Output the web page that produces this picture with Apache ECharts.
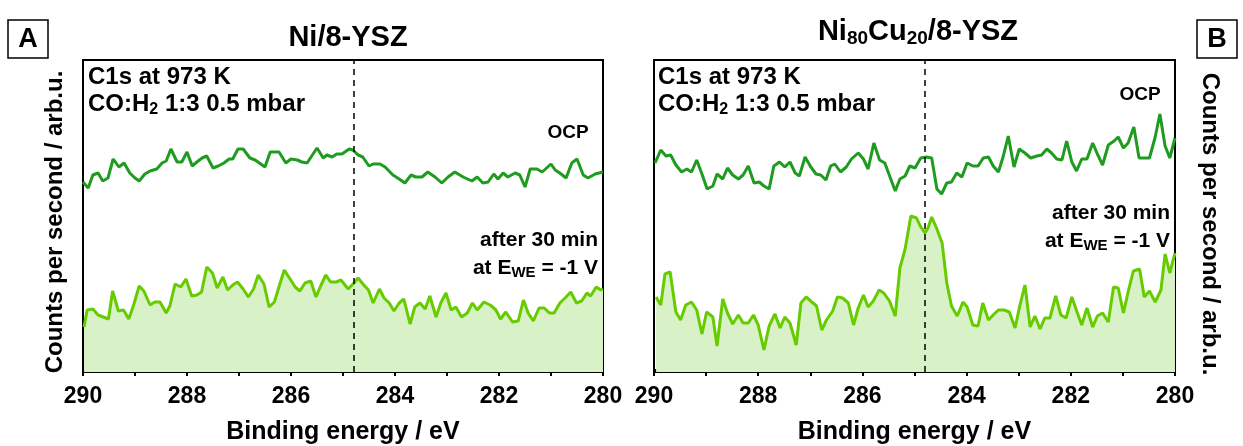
<!DOCTYPE html>
<html>
<head>
<meta charset="utf-8">
<script src="https://cdn.jsdelivr.net/npm/echarts@6/dist/echarts.min.js"></script>
<style>
  html, body { margin: 0; padding: 0; background: #fff; }
  #main { width: 1243px; height: 446px; }
</style>
</head>
<body>
<div id="main"></div>
<script>
// C1s spectra, [binding energy eV, counts arb.u.]
var niOcp = [
  [290.00,188],[289.90,182],[289.81,195],[289.71,197],[289.62,189],[289.52,192],[289.42,211],[289.31,203],
  [289.21,207],[289.10,197],[289.00,192],[288.92,189],[288.81,196],[288.71,199],[288.58,201],[288.48,207],
  [288.40,209],[288.31,221],[288.19,208],[288.10,208],[288.00,218],[287.90,204],[287.81,208],[287.71,212],
  [287.62,214],[287.50,202],[287.40,204],[287.29,207],[287.19,211],[287.12,211],[287.02,221],[286.92,221],
  [286.79,212],[286.69,210],[286.50,203],[286.40,218],[286.23,218],[286.10,207],[286.00,211],[285.88,210],
  [285.79,208],[285.69,207],[285.50,222],[285.38,212],[285.31,215],[285.21,213],[285.12,216],[285.02,216],
  [284.88,221],[284.81,220],[284.71,215],[284.62,213],[284.50,204],[284.42,206],[284.29,206],[284.19,203],
  [284.04,195],[283.92,191],[283.81,187],[283.69,195],[283.60,193],[283.48,193],[283.37,198],[283.23,193],
  [283.10,187],[282.98,193],[282.85,198],[282.69,193],[282.52,189],[282.42,193],[282.31,187],[282.21,188],
  [282.10,196],[282.02,191],[281.92,197],[281.83,193],[281.69,197],[281.60,195],[281.50,183],[281.40,201],
  [281.27,201],[281.17,198],[281.00,206],[280.92,200],[280.83,197],[280.71,192],[280.60,207],[280.50,211],
  [280.38,195],[280.29,192],[280.15,196],[280.00,198]
];
var niBias = [
  [289.98,43],[289.92,60],[289.81,61],[289.71,55],[289.61,53],[289.51,51],[289.43,79],[289.32,59],
  [289.22,60],[289.12,51],[289.02,66],[288.92,84],[288.83,79],[288.71,65],[288.62,68],[288.52,68],
  [288.40,57],[288.33,64],[288.23,86],[288.12,83],[288.02,91],[287.91,74],[287.81,75],[287.72,78],
  [287.62,103],[287.51,97],[287.42,82],[287.31,93],[287.22,80],[287.12,85],[287.03,88],[286.92,81],
  [286.82,73],[286.72,81],[286.63,95],[286.52,86],[286.42,63],[286.32,68],[286.22,85],[286.13,100],
  [286.03,92],[285.92,83],[285.83,79],[285.73,87],[285.62,89],[285.52,73],[285.43,84],[285.33,95],
  [285.24,88],[285.13,88],[285.04,90],[284.90,81],[284.79,87],[284.71,92],[284.60,85],[284.51,80],
  [284.42,67],[284.30,81],[284.21,72],[284.11,67],[284.02,59],[283.92,67],[283.83,71],[283.71,46],
  [283.62,63],[283.52,67],[283.42,61],[283.33,74],[283.21,53],[283.12,67],[283.02,77],[282.92,60],
  [282.83,63],[282.72,53],[282.61,57],[282.51,67],[282.42,60],[282.29,68],[282.17,65],[282.06,60],
  [281.97,51],[281.87,58],[281.74,48],[281.63,49],[281.53,70],[281.44,57],[281.34,49],[281.23,62],
  [281.13,62],[281.03,57],[280.94,57],[280.83,67],[280.71,73],[280.62,78],[280.51,67],[280.41,69],
  [280.31,77],[280.24,74],[280.13,83],[280.04,80],[280.00,81]
];
var nicuOcp = [
  [289.98,207],[289.87,220],[289.77,214],[289.68,215],[289.58,205],[289.47,198],[289.37,201],[289.28,198],
  [289.18,210],[289.08,196],[288.98,181],[288.87,184],[288.79,196],[288.68,191],[288.59,202],[288.49,195],
  [288.38,191],[288.29,195],[288.19,204],[288.08,187],[287.98,188],[287.89,184],[287.79,181],[287.70,204],
  [287.59,208],[287.49,203],[287.39,208],[287.29,197],[287.21,194],[287.10,213],[286.99,203],[286.89,196],
  [286.80,195],[286.70,190],[286.61,204],[286.53,206],[286.42,198],[286.31,203],[286.21,211],[286.08,217],
  [285.98,211],[285.89,201],[285.78,227],[285.67,210],[285.57,207],[285.47,193],[285.37,179],[285.28,191],
  [285.18,194],[285.09,204],[284.99,202],[284.88,212],[284.77,213],[284.67,212],[284.57,181],[284.48,176],
  [284.38,187],[284.29,188],[284.19,197],[284.09,193],[283.99,207],[283.88,204],[283.78,204],[283.68,212],
  [283.58,213],[283.49,204],[283.39,198],[283.30,213],[283.20,234],[283.09,203],[282.99,221],[282.88,217],
  [282.77,212],[282.65,214],[282.56,215],[282.46,221],[282.37,217],[282.27,211],[282.17,210],[282.08,229],
  [281.98,208],[281.89,199],[281.79,211],[281.69,211],[281.58,227],[281.49,216],[281.39,205],[281.28,225],
  [281.17,229],[281.09,233],[280.99,222],[280.90,227],[280.79,243],[280.69,212],[280.60,212],[280.49,212],
  [280.38,233],[280.29,256],[280.19,224],[280.10,212],[280.00,232]
];
var nicuBias = [
  [289.96,73],[289.87,65],[289.79,96],[289.69,98],[289.58,58],[289.49,50],[289.39,65],[289.28,68],
  [289.18,60],[289.08,36],[288.99,58],[288.87,53],[288.79,24],[288.68,71],[288.59,57],[288.49,46],
  [288.38,55],[288.29,47],[288.19,47],[288.09,55],[288.00,45],[287.89,20],[287.79,44],[287.68,56],
  [287.58,42],[287.49,53],[287.39,47],[287.27,25],[287.18,67],[287.08,73],[286.97,68],[286.88,64],
  [286.78,40],[286.69,50],[286.57,59],[286.48,73],[286.38,72],[286.27,67],[286.17,45],[286.08,62],
  [285.98,75],[285.89,63],[285.79,69],[285.68,80],[285.59,77],[285.48,69],[285.37,54],[285.28,102],
  [285.18,121],[285.07,154],[284.96,152],[284.89,144],[284.80,137],[284.74,142],[284.67,153],[284.57,141],
  [284.47,127],[284.38,87],[284.29,64],[284.18,54],[284.07,68],[283.99,63],[283.88,45],[283.78,44],
  [283.69,67],[283.58,50],[283.49,55],[283.39,60],[283.28,60],[283.18,58],[283.07,42],[282.98,64],
  [282.88,85],[282.78,43],[282.69,54],[282.59,41],[282.50,52],[282.40,52],[282.29,74],[282.19,55],
  [282.09,52],[281.98,73],[281.88,58],[281.79,45],[281.69,62],[281.58,43],[281.49,54],[281.39,57],
  [281.28,48],[281.18,83],[281.09,82],[280.99,57],[280.90,78],[280.80,99],[280.68,101],[280.59,73],
  [280.49,79],[280.38,68],[280.27,80],[280.19,116],[280.10,97],[280.00,117]
];
var peakPos = 284.8;

var font = "'Liberation Sans', Arial, sans-serif";
var ocpColor = '#1f9b1f';
var biasColor = '#66cc00';
var fillColor = '#d9f1c6';

var myChart = echarts.init(document.getElementById('main'));

function xAx(idx) {
  return {
    gridIndex: idx, type: 'value', min: 280, max: 290, interval: 2, inverse: true,
    name: 'Binding energy / eV', nameLocation: 'middle', nameGap: 48,
    nameTextStyle: { fontFamily: font, fontWeight: 'bold', fontSize: 25, color: '#000' },
    axisLine: { lineStyle: { color: '#000', width: 2 } },
    axisTick: { inside: false, length: 6, lineStyle: { color: '#000', width: 2 } },
    minorTick: { show: true, splitNumber: 2, length: 6, lineStyle: { color: '#000', width: 2 } },
    axisLabel: { fontFamily: font, fontWeight: 'bold', fontSize: 23, color: '#000', margin: 13 },
    splitLine: { show: false }
  };
}
function yAx(idx) {
  return {
    gridIndex: idx, type: 'value', min: -2, max: 310,
    axisLine: { show: false }, axisTick: { show: false },
    axisLabel: { show: false }, splitLine: { show: false }
  };
}
function lineSeries(idx, data, color, area, mark) {
  var s = {
    type: 'line', xAxisIndex: idx, yAxisIndex: idx, data: data,
    showSymbol: false, symbol: 'none', smooth: false,
    lineStyle: { color: color, width: 3 }, itemStyle: { color: color },
    z: area ? 2 : 3
  };
  if (area) s.areaStyle = { color: fillColor, opacity: 1, origin: 'start' };
  if (mark) {
    s.markLine = {
      silent: true, symbol: 'none', label: { show: false },
      lineStyle: { color: '#000', type: [6, 5], width: 1.5 },
      data: [{ xAxis: peakPos }]
    };
  }
  return s;
}

var rich = {
  t: { fontFamily: font, fontWeight: 'bold', fontSize: 24, color: '#000' },
  s: { fontFamily: font, fontWeight: 'bold', fontSize: 16, color: '#000', padding: [12, 0, 0, 0] },
  a: { fontFamily: font, fontWeight: 'bold', fontSize: 21, color: '#000' },
  as: { fontFamily: font, fontWeight: 'bold', fontSize: 15, color: '#000', padding: [10, 0, 0, 0] },
  h: { fontFamily: font, fontWeight: 'bold', fontSize: 29, color: '#000' },
  hs: { fontFamily: font, fontWeight: 'bold', fontSize: 19, color: '#000', padding: [14, 0, 0, 0] }
};
function txt(x, y, text, align, size, extra) {
  var o = {
    type: 'text', x: x, y: y, z: 100,
    style: { text: text, textAlign: align || 'left', textVerticalAlign: 'middle',
      font: 'bold ' + (size || 24) + 'px ' + font, fill: '#000', rich: rich }
  };
  if (extra) for (var k in extra) o[k] = extra[k];
  return o;
}

option = {
  animation: false,
  backgroundColor: '#fff',
  grid: [
    { left: 83, top: 60, width: 520, height: 312, outerBoundsMode: 'none', show: true, borderColor: '#000', borderWidth: 2, backgroundColor: 'transparent' },
    { left: 654, top: 60, width: 521, height: 312, outerBoundsMode: 'none', show: true, borderColor: '#000', borderWidth: 2, backgroundColor: 'transparent' }
  ],
  xAxis: [xAx(0), xAx(1)],
  yAxis: [yAx(0), yAx(1)],
  series: [
    lineSeries(0, niBias, biasColor, true, true),
    lineSeries(0, niOcp, ocpColor, false, false),
    lineSeries(1, nicuBias, biasColor, true, true),
    lineSeries(1, nicuOcp, ocpColor, false, false)
  ],
  graphic: [
    { type: 'rect', shape: { x: 8, y: 20, width: 40, height: 38 }, style: { fill: '#fff', stroke: '#000', lineWidth: 1.5 } },
    txt(28, 40, 'A', 'center', 27),
    { type: 'rect', shape: { x: 1197, y: 20, width: 40, height: 38 }, style: { fill: '#fff', stroke: '#000', lineWidth: 1.5 } },
    txt(1217, 40, 'B', 'center', 27),
    txt(348, 38, 'Ni/8-YSZ', 'center', 29),
    txt(918, 32, '{h|Ni}{hs|80}{h|Cu}{hs|20}{h|/8-YSZ}', 'center', 29),
    txt(88, 77, 'C1s at 973 K', 'left', 24),
    txt(88, 104, '{t|CO:H}{s|2}{t| 1:3 0.5 mbar}', 'left', 24),
    txt(658, 77, 'C1s at 973 K', 'left', 24),
    txt(658, 104, '{t|CO:H}{s|2}{t| 1:3 0.5 mbar}', 'left', 24),
    txt(568, 133, 'OCP', 'center', 19),
    txt(1140, 95, 'OCP', 'center', 19),
    txt(598, 240, 'after 30 min', 'right', 21),
    txt(598, 268, '{a|at E}{as|WE}{a| = -1 V}', 'right', 21),
    txt(1170, 213, 'after 30 min', 'right', 21),
    txt(1170, 241, '{a|at E}{as|WE}{a| = -1 V}', 'right', 21),
    txt(55, 222, 'Counts per second / arb.u.', 'center', 24, { rotation: Math.PI / 2 }),
    txt(1210, 224, 'Counts per second / arb.u.', 'center', 24, { rotation: -Math.PI / 2 })
  ]
};

myChart.setOption(option);

window.onresize = function() {
  myChart.resize();
}
</script>
</body>
</html>
